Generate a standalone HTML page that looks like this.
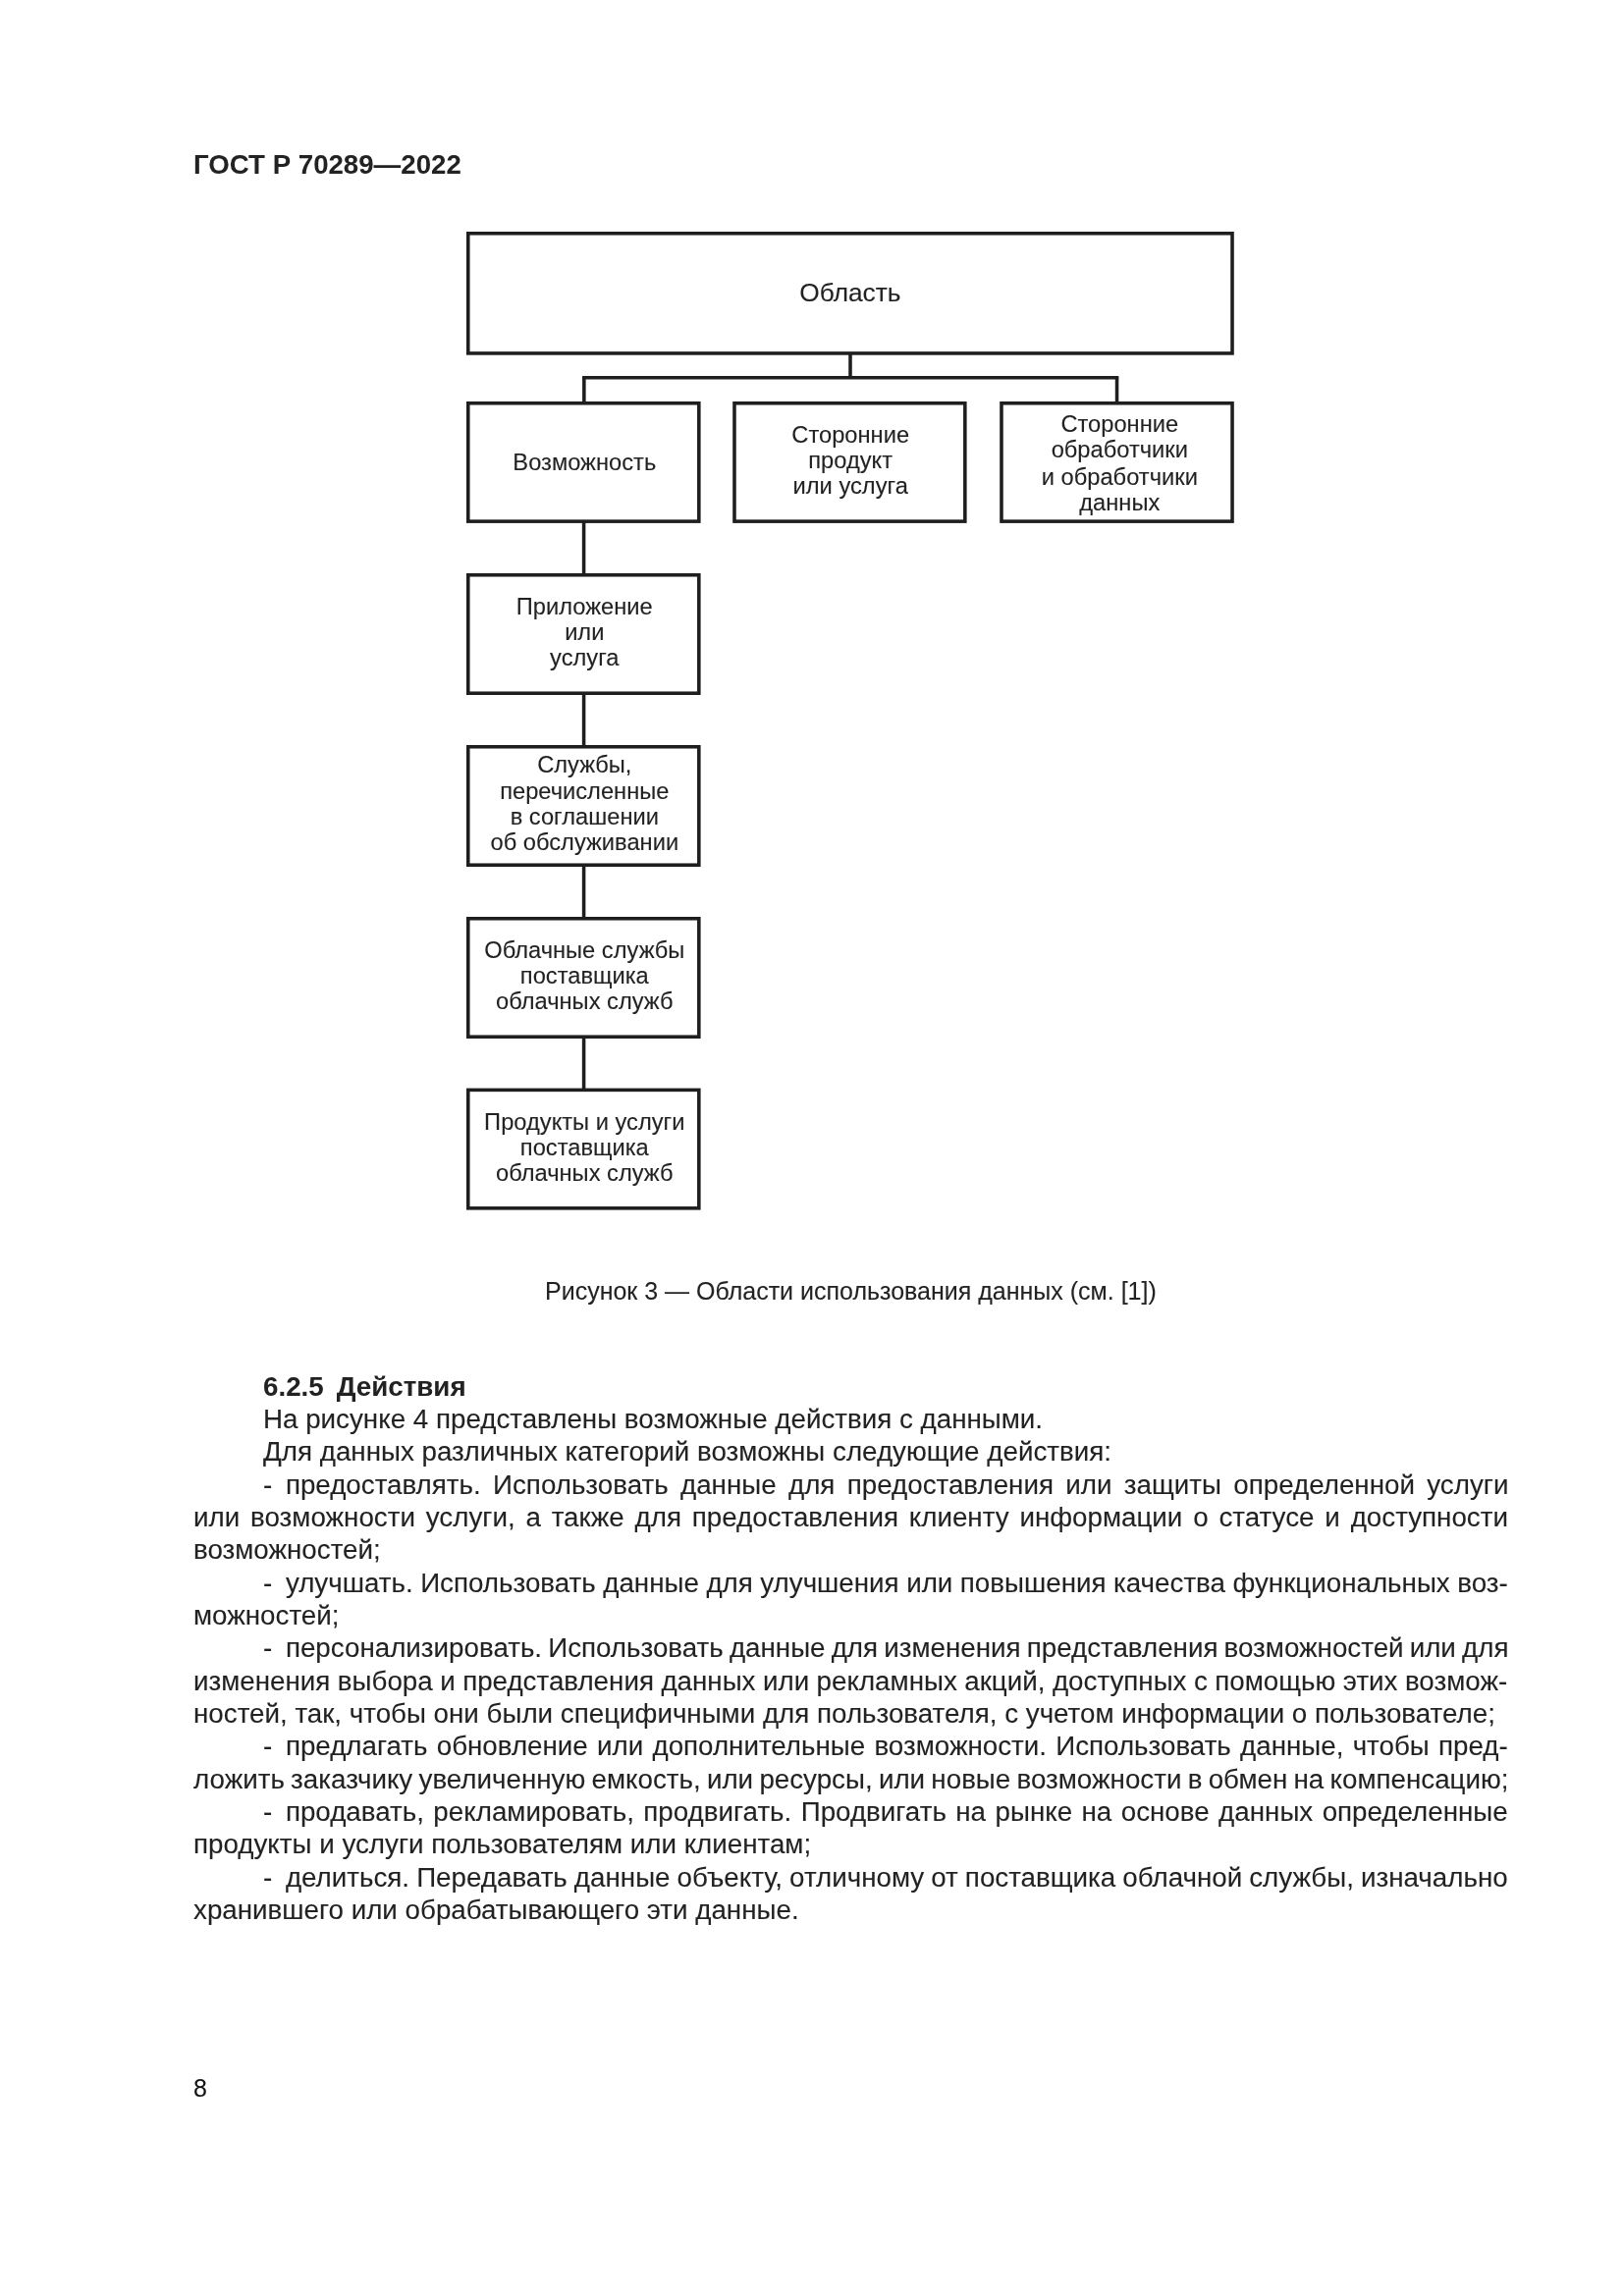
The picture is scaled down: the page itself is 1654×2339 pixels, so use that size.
<!DOCTYPE html>
<html lang="ru"><head><meta charset="utf-8"><title>ГОСТ Р 70289—2022</title>
<style>
html,body{margin:0;padding:0;background:#fff;}
body{width:1654px;height:2339px;position:relative;overflow:hidden;font-family:"Liberation Sans", sans-serif;color:#222222;}
.t{position:absolute;line-height:0;white-space:pre;will-change:transform;-webkit-text-stroke:0.1px #222222;}
.hy{display:inline-block;width:22.9px;}
.dg{position:absolute;left:0;top:0;}
</style></head><body>
<div class="t" style="left:197.00px;top:168px;font-size:27.65px;font-weight:bold;-webkit-text-stroke:0;">ГОСТ Р 70289—2022</div>
<svg class="dg" width="1654" height="2339" viewBox="0 0 1654 2339"><rect x="476.77" y="237.78" width="778.25" height="122.15" fill="none" stroke="#1e1e1e" stroke-width="3.55"/><rect x="476.77" y="410.77" width="235.05" height="120.35" fill="none" stroke="#1e1e1e" stroke-width="3.55"/><rect x="747.98" y="410.77" width="234.85" height="120.35" fill="none" stroke="#1e1e1e" stroke-width="3.55"/><rect x="1019.98" y="410.77" width="235.05" height="120.35" fill="none" stroke="#1e1e1e" stroke-width="3.55"/><rect x="476.77" y="585.77" width="235.05" height="120.45" fill="none" stroke="#1e1e1e" stroke-width="3.55"/><rect x="476.77" y="760.77" width="235.05" height="120.45" fill="none" stroke="#1e1e1e" stroke-width="3.55"/><rect x="476.77" y="935.77" width="235.05" height="120.45" fill="none" stroke="#1e1e1e" stroke-width="3.55"/><rect x="476.77" y="1110.38" width="235.05" height="120.45" fill="none" stroke="#1e1e1e" stroke-width="3.55"/><line x1="866.00" y1="361.00" x2="866.00" y2="385.00" stroke="#1e1e1e" stroke-width="3.55"/><line x1="593.20" y1="384.75" x2="1139.20" y2="384.75" stroke="#1e1e1e" stroke-width="3.55"/><line x1="594.85" y1="383.50" x2="594.85" y2="410.00" stroke="#1e1e1e" stroke-width="3.55"/><line x1="1137.55" y1="383.50" x2="1137.55" y2="410.00" stroke="#1e1e1e" stroke-width="3.55"/><line x1="594.60" y1="531.90" x2="594.60" y2="585.00" stroke="#1e1e1e" stroke-width="3.55"/><line x1="594.60" y1="707.00" x2="594.60" y2="760.00" stroke="#1e1e1e" stroke-width="3.55"/><line x1="594.60" y1="882.00" x2="594.60" y2="935.00" stroke="#1e1e1e" stroke-width="3.55"/><line x1="594.60" y1="1057.00" x2="594.60" y2="1109.60" stroke="#1e1e1e" stroke-width="3.55"/></svg>
<div class="t" style="left:474.80px;top:298px;font-size:26.3px;width:781.80px;text-align:center;">Область</div>
<div class="t" style="left:475.80px;top:471px;font-size:23.7px;width:238.60px;text-align:center;">Возможность</div>
<div class="t" style="left:747.20px;top:443px;font-size:23.7px;width:238.40px;text-align:center;">Сторонние</div>
<div class="t" style="left:747.20px;top:469px;font-size:23.7px;width:238.40px;text-align:center;">продукт</div>
<div class="t" style="left:747.20px;top:495px;font-size:23.7px;width:238.40px;text-align:center;">или услуга</div>
<div class="t" style="left:1021.20px;top:432px;font-size:23.7px;width:238.60px;text-align:center;">Сторонние</div>
<div class="t" style="left:1021.20px;top:458px;font-size:23.7px;width:238.60px;text-align:center;">обработчики</div>
<div class="t" style="left:1021.20px;top:486px;font-size:23.7px;width:238.60px;text-align:center;">и обработчики</div>
<div class="t" style="left:1021.20px;top:512px;font-size:23.7px;width:238.60px;text-align:center;">данных</div>
<div class="t" style="left:475.80px;top:618px;font-size:23.7px;width:238.60px;text-align:center;">Приложение</div>
<div class="t" style="left:475.80px;top:644px;font-size:23.7px;width:238.60px;text-align:center;">или</div>
<div class="t" style="left:475.80px;top:670px;font-size:23.7px;width:238.60px;text-align:center;">услуга</div>
<div class="t" style="left:475.80px;top:779px;font-size:23.7px;width:238.60px;text-align:center;">Службы,</div>
<div class="t" style="left:475.80px;top:806px;font-size:23.7px;width:238.60px;text-align:center;">перечисленные</div>
<div class="t" style="left:475.80px;top:832px;font-size:23.7px;width:238.60px;text-align:center;">в соглашении</div>
<div class="t" style="left:475.80px;top:858px;font-size:23.7px;width:238.60px;text-align:center;">об обслуживании</div>
<div class="t" style="left:475.80px;top:968px;font-size:23.7px;width:238.60px;text-align:center;">Облачные службы</div>
<div class="t" style="left:475.80px;top:994px;font-size:23.7px;width:238.60px;text-align:center;">поставщика</div>
<div class="t" style="left:475.80px;top:1020px;font-size:23.7px;width:238.60px;text-align:center;">облачных служб</div>
<div class="t" style="left:475.80px;top:1143px;font-size:23.7px;width:238.60px;text-align:center;">Продукты и услуги</div>
<div class="t" style="left:475.80px;top:1169px;font-size:23.7px;width:238.60px;text-align:center;">поставщика</div>
<div class="t" style="left:475.80px;top:1195px;font-size:23.7px;width:238.60px;text-align:center;">облачных служб</div>
<div class="t" style="left:0.00px;top:1315px;font-size:25.0px;width:1732.80px;text-align:center;">Рисунок 3 — Области использования данных (см. [1])</div>
<div class="t" style="left:267.50px;top:1413px;font-size:27.75px;font-weight:bold;-webkit-text-stroke:0;word-spacing:-1.25px;">6.2.5&nbsp; Действия</div>
<div class="t" style="left:267.50px;top:1446px;font-size:27.75px;">На рисунке 4 представлены возможные действия с данными.</div>
<div class="t" style="left:267.50px;top:1479px;font-size:27.75px;">Для данных различных категорий возможны следующие действия:</div>
<div class="t" id="j3" style="left:267.50px;top:1513px;font-size:27.75px;word-spacing:4.635px;"><span class="m"><span class="hy">-</span>предоставлять. Использовать данные для предоставления или защиты определенной услуги</span></div>
<div class="t" id="j4" style="left:197.00px;top:1546px;font-size:27.75px;word-spacing:3.129px;"><span class="m">или возможности услуги, а также для предоставления клиенту информации о статусе и доступности</span></div>
<div class="t" style="left:197.00px;top:1579px;font-size:27.75px;">возможностей;</div>
<div class="t" id="j6" style="left:267.50px;top:1613px;font-size:27.75px;word-spacing:-0.207px;"><span class="m"><span class="hy">-</span>улучшать. Использовать данные для улучшения или повышения качества функциональных воз-</span></div>
<div class="t" style="left:197.00px;top:1646px;font-size:27.75px;">можностей;</div>
<div class="t" id="j8" style="left:267.50px;top:1679px;font-size:27.75px;word-spacing:-1.590px;"><span class="m"><span class="hy">-</span>персонализировать. Использовать данные для изменения представления возможностей или для</span></div>
<div class="t" id="j9" style="left:197.00px;top:1713px;font-size:27.75px;word-spacing:-0.238px;"><span class="m">изменения выбора и представления данных или рекламных акций, доступных с помощью этих возмож-</span></div>
<div class="t" style="left:197.00px;top:1746px;font-size:27.75px;">ностей, так, чтобы они были специфичными для пользователя, с учетом информации о пользователе;</div>
<div class="t" id="j11" style="left:267.50px;top:1779px;font-size:27.75px;word-spacing:1.517px;"><span class="m"><span class="hy">-</span>предлагать обновление или дополнительные возможности. Использовать данные, чтобы пред-</span></div>
<div class="t" id="j12" style="left:197.00px;top:1813px;font-size:27.75px;word-spacing:-1.445px;"><span class="m">ложить заказчику увеличенную емкость, или ресурсы, или новые возможности в обмен на компенсацию;</span></div>
<div class="t" id="j13" style="left:267.50px;top:1846px;font-size:27.75px;word-spacing:1.734px;"><span class="m"><span class="hy">-</span>продавать, рекламировать, продвигать. Продвигать на рынке на основе данных определенные</span></div>
<div class="t" style="left:197.00px;top:1879px;font-size:27.75px;">продукты и услуги пользователям или клиентам;</div>
<div class="t" id="j15" style="left:267.50px;top:1913px;font-size:27.75px;word-spacing:-0.647px;"><span class="m"><span class="hy">-</span>делиться. Передавать данные объекту, отличному от поставщика облачной службы, изначально</span></div>
<div class="t" style="left:197.00px;top:1946px;font-size:27.75px;">хранившего или обрабатывающего эти данные.</div>
<div class="t" style="left:197.00px;top:2127px;font-size:25.0px;color:#111;">8</div>
</body></html>
